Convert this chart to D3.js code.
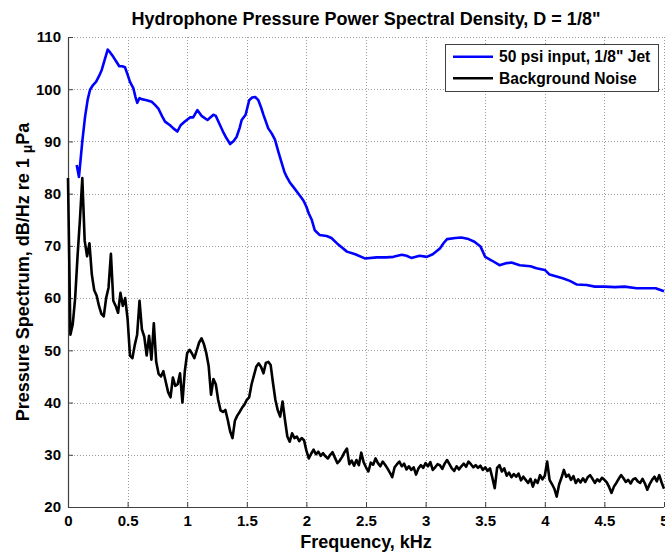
<!DOCTYPE html>
<html>
<head>
<meta charset="utf-8">
<script src="https://cdn.jsdelivr.net/npm/d3@7"></script>
<style>
  html, body { margin: 0; padding: 0; background: #fff; }
  svg text { font-family: "Liberation Sans", Arial, sans-serif; font-weight: bold; fill: #000; }
</style>
</head>
<body>
<svg id="chart" width="665" height="553"></svg>
<script>
// Jet spectrum (smoothed), frequency in kHz and level in dB/Hz re 1 µPa
const jetFreq = [0.073,0.092,0.12,0.143,0.165,0.185,0.21,0.235,0.26,0.283,0.31,0.333,0.355,0.38,0.405,0.43,0.455,0.478,0.50,0.52,0.548,0.565,0.581,0.60,0.618,0.66,0.702,0.73,0.758,0.79,0.814,0.856,0.884,0.917,0.945,0.98,1.023,1.05,1.085,1.12,1.17,1.22,1.24,1.27,1.30,1.33,1.36,1.39,1.415,1.44,1.457,1.49,1.52,1.545,1.57,1.597,1.62,1.64,1.68,1.71,1.737,1.765,1.79,1.815,1.835,1.86,1.89,1.946,1.975,2.0,2.02,2.045,2.07,2.11,2.17,2.21,2.27,2.34,2.41,2.49,2.59,2.67,2.73,2.80,2.84,2.88,2.95,3.01,3.06,3.12,3.15,3.18,3.25,3.30,3.36,3.41,3.46,3.50,3.555,3.62,3.68,3.72,3.79,3.88,3.93,4.0,4.04,4.15,4.21,4.27,4.35,4.42,4.50,4.59,4.67,4.77,4.86,4.93,5.0];
const jetLevel = [85.5,83.2,90,94.7,98,99.9,100.8,101.4,102.5,103.7,105.8,107.6,107,106.2,105.3,104.4,104.4,104.2,102.8,101.4,100.2,98.6,97.4,98.3,98.1,97.9,97.6,97,96.3,94.8,93.8,93.1,92.5,91.9,93.1,93.8,94.6,94.6,96.0,94.9,94.1,95.1,94.9,93.4,91.9,90.6,89.5,90.1,90.9,92.6,94.1,95.1,97.9,98.4,98.5,97.9,96.5,95.1,92.5,91.5,90.3,88,86.1,84.2,83.2,82.2,81.3,79.6,78.7,77.5,76.2,75.0,73.0,72.1,71.9,71.5,70.2,68.9,68.4,67.6,67.8,67.8,67.9,68.3,68.1,67.7,68.1,67.9,68.4,69.5,70.5,71.3,71.5,71.6,71.3,70.8,69.9,67.9,67.2,66.3,66.7,66.8,66.3,66.1,65.7,65.4,64.5,63.8,63.3,62.6,62.5,62.2,62.2,62.1,62.2,61.9,61.9,61.9,61.3];

// Background noise spectrum, one value per 0.02 kHz bin starting at 0 kHz
const noiseBinKHz = 0.02;
const noiseLevel = [
  83,53,55,60,68,75,83,71,68,70.5,
  64.5,61.5,60.5,58.5,57,56.5,60,62,68.5,59.5,
  58.5,57.2,61,58.5,60,56,49,48.5,51,53,
  59.5,54,52.6,49,52.8,48.2,55.2,47.8,45.5,45,
  46,44,42,41,44.8,43.2,43.5,45.6,40,46,
  49.5,50.1,49.4,48.5,50,51.5,52.3,51.2,49.5,47,
  41.5,44.5,43.5,40.5,38.5,38.2,38.6,36.7,34.5,33.2,
  36.5,37.5,38.2,39,39.6,40.5,41,43.5,45.2,46.9,
  47.5,46.8,45.6,47.6,47.8,47.2,43.7,40.5,38.5,37.3,
  40.2,36.7,33.5,32.5,34.1,33.2,33.5,32.6,33.2,32.8,
  30.8,29.3,30.2,31.0,30.1,30.6,29.8,30.3,29.7,29.3,
  30.0,30.5,29.4,28.4,28.9,29.6,30.5,31.2,28.2,28.9,
  27.9,29.0,28.0,30.4,28.6,27.6,26.8,28.5,28.1,29.3,
  28.4,27.8,28.7,28.1,27.4,26.6,25.7,27.6,28.2,28.7,
  27.8,28.3,27.2,27.8,27.1,27.6,26.2,27.4,28.0,27.5,
  28.4,27.8,28.6,27.1,27.6,28.2,28.0,27.3,28.3,29.0,
  28.2,27.4,26.9,27.8,27.2,27.8,28.3,27.7,28.7,28.2,
  27.6,28.0,27.5,27.9,27.1,27.6,26.9,27.4,25.6,23.6,
  27.5,28.0,26.8,27.4,26.0,26.6,25.7,26.3,25.8,26.4,
  25.1,25.8,25.2,24.6,25.4,23.9,25.2,24.6,26.1,25.3,
  26.0,28.7,25.2,24.4,23.5,22.0,24.3,25.6,27.1,25.8,
  26.2,25.2,25.9,24.6,25.3,24.7,25.5,24.8,25.7,26.1,
  25.4,24.6,25.3,24.9,25.6,25.2,24.7,23.8,22.7,23.9,
  24.6,25.4,26.1,25.5,24.8,25.2,24.5,25.3,25.5,24.9,
  24.6,25.4,24.5,23.3,24.4,25.2,25.8,24.9,26.1,24.7,
  23.5
];

const xTicks = [0, 0.5, 1, 1.5, 2, 2.5, 3, 3.5, 4, 4.5, 5];
const yTicks = [20, 30, 40, 50, 60, 70, 80, 90, 100, 110];
const seriesNames = ["50 psi input, 1/8\" Jet", "Background Noise"];
const seriesColors = ["#0000ff", "#000000"];

const W = 665, H = 553;
const margin = { top: 37, right: 1, bottom: 46, left: 68 };
const innerW = W - margin.left - margin.right;
const innerH = H - margin.top - margin.bottom;

const svg = d3.select("#chart");
const g = svg.append("g").attr("transform", `translate(${margin.left},${margin.top})`);

const x = d3.scaleLinear().domain([0, 5]).range([0, innerW]);
const y = d3.scaleLinear().domain([20, 110]).range([innerH, 0]);

// dotted grid
const grid = g.append("g").attr("class", "grid")
  .attr("stroke", "#9a9a9a").attr("stroke-width", 1).attr("stroke-dasharray", "1,2");
grid.selectAll("line.v").data(xTicks.filter(d => d > 0)).join("line")
  .attr("class", "v")
  .attr("x1", d => Math.round(x(d)) + 0.5).attr("x2", d => Math.round(x(d)) + 0.5)
  .attr("y1", 0).attr("y2", innerH);
grid.selectAll("line.h").data(yTicks.filter(d => d > 20)).join("line")
  .attr("class", "h")
  .attr("x1", 0).attr("x2", innerW)
  .attr("y1", d => Math.round(y(d)) + 0.5).attr("y2", d => Math.round(y(d)) + 0.5);

// axes
const xAxis = d3.axisBottom(x).tickValues(xTicks).tickSize(-5).tickPadding(8)
  .tickFormat(d3.format("~g"));
const yAxis = d3.axisLeft(y).tickValues(yTicks).tickSize(-5).tickPadding(7)
  .tickFormat(d3.format("d"));

const gx = g.append("g").attr("transform", `translate(0,${innerH})`).call(xAxis);
const gy = g.append("g").call(yAxis);
[gx, gy].forEach(a => {
  a.select(".domain").attr("stroke", "#404040").attr("stroke-width", 1.2);
  a.selectAll(".tick line").attr("stroke", "#404040");
  a.selectAll(".tick text").attr("font-size", 15).attr("font-weight", "bold")
    .attr("font-family", "Liberation Sans, Arial, sans-serif").attr("fill", "#000");
});
gx.select(".domain").attr("d", `M0.5,0.5H${innerW}`);
gy.select(".domain").attr("d", `M0.5,${innerH + 0.5}V0.5`);

// series
const line = d3.line().x(d => x(d[0])).y(d => y(d[1]));
const jetData = jetFreq.map((f, i) => [f, jetLevel[i]]);
const noiseData = noiseLevel.map((v, i) => [i * noiseBinKHz, v]);

g.append("path").datum(noiseData)
  .attr("d", line).attr("fill", "none")
  .attr("stroke", seriesColors[1]).attr("stroke-width", 2.6).attr("stroke-linejoin", "round");
g.append("path").datum(jetData)
  .attr("d", line).attr("fill", "none")
  .attr("stroke", seriesColors[0]).attr("stroke-width", 2.6).attr("stroke-linejoin", "round");

// title and axis labels
svg.append("text").attr("x", margin.left + innerW / 2).attr("y", 25)
  .attr("text-anchor", "middle").attr("font-size", 18)
  .text("Hydrophone Pressure Power Spectral Density, D = 1/8\"");

svg.append("text").attr("x", margin.left + innerW / 2).attr("y", 548)
  .attr("text-anchor", "middle").attr("font-size", 18)
  .text("Frequency, kHz");

const yl = svg.append("text")
  .attr("transform", `translate(29,${margin.top + innerH / 2}) rotate(-90)`)
  .attr("text-anchor", "middle").attr("font-size", 18);
yl.append("tspan").text("Pressure Spectrum, dB/Hz re 1 ");
yl.append("tspan").attr("dy", 3).attr("font-size", 14).text("\u03bc");
yl.append("tspan").attr("dy", -3).text("Pa");

// legend
const lg = svg.append("g").attr("transform", "translate(445,44)");
lg.append("rect").attr("x", 0.5).attr("y", 0.5).attr("width", 213).attr("height", 47)
  .attr("fill", "#fff").attr("stroke", "#404040").attr("stroke-width", 1);
seriesNames.forEach((name, i) => {
  const yy = 12.7 + i * 21.6;
  lg.append("line").attr("x1", 8).attr("x2", 48).attr("y1", yy).attr("y2", yy)
    .attr("stroke", seriesColors[i]).attr("stroke-width", 2.6);
  lg.append("text").attr("x", 54).attr("y", yy + 5.5).attr("font-size", 15.6).text(name);
});
</script>
</body>
</html>
